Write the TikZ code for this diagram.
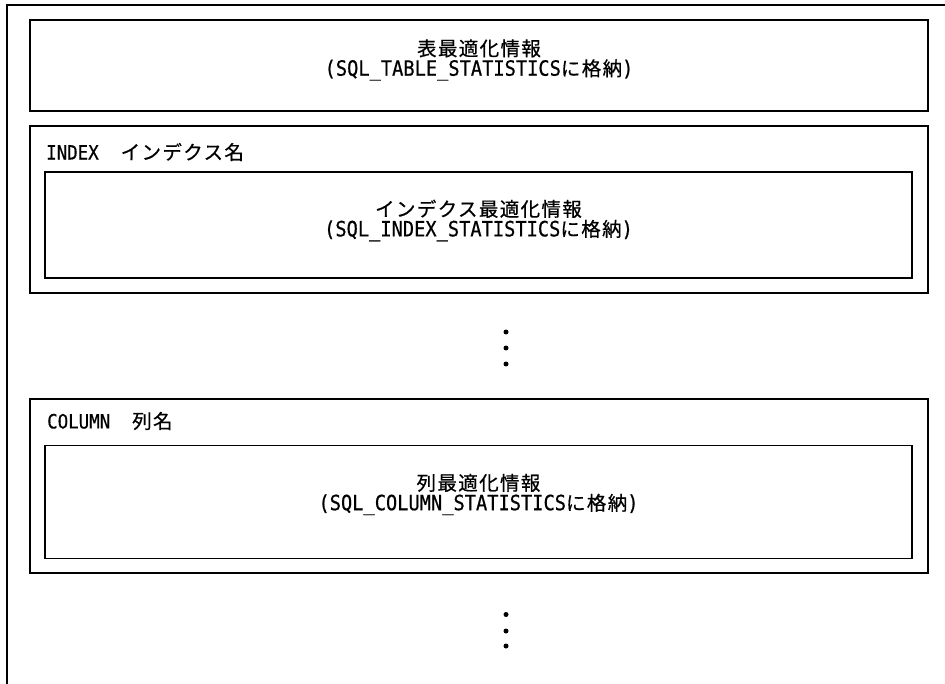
\documentclass[tikz,border=0pt]{standalone}
\usepackage{fontspec}
\newfontfamily\jpfont[LetterSpace=7,FakeBold=0.6]{Noto Sans CJK JP}
\newfontfamily\latfont[FakeStretch=0.89,FakeBold=0.6]{DejaVu Sans Mono}
\newcommand\jt[1]{{\fontsize{19.5pt}{20pt}\jpfont #1}}
\newcommand\lt[1]{{\fontsize{21pt}{20pt}\latfont #1}}
\newcommand\lbt[1]{{\fontsize{19.6pt}{20pt}\latfont #1}}
\begin{document}
\begin{tikzpicture}[x=1pt,y=-1pt,
  box/.style={draw=black,line width=1.6pt,inner sep=0pt},
  label/.style={inner sep=0pt,font=\fontsize{19.5pt}{20pt}\selectfont},
  txt/.style={inner sep=0pt,align=center,font=\fontsize{19.5pt}{20pt}\selectfont},
  dotmark/.style={circle,fill=black,inner sep=0pt,minimum size=5pt}]
\useasboundingbox (0,0) rectangle (945,684);
% outer frame (open at right and bottom)
\coordinate (ftop) at (945,5);
\coordinate (fcorner) at (7,5);
\coordinate (fbot) at (7,684);
\draw[line width=1.4pt] (ftop) -- (fcorner) -- (fbot);
% table statistics
\node[box,minimum width=898pt,minimum height=91pt] (tbl) at (479,65.5) {};
\node[txt] (tbltxt) at (479,60) {\jt{表最適化情報}\\\lt{(SQL\_TABLE\_STATISTICS}\jt{に格納}\lt{)}};
% index
\node[box,minimum width=898pt,minimum height=167pt] (idx) at (479,209.5) {};
\node[label,anchor=west] (idxlab) at (46,152) {\lbt{INDEX}\hspace{22pt}\jt{インデクス名}};
\node[box,minimum width=867pt,minimum height=106pt] (idxin) at (478.5,225) {};
\node[txt] (idxtxt) at (478.5,220.5) {\jt{インデクス最適化情報}\\\lt{(SQL\_INDEX\_STATISTICS}\jt{に格納}\lt{)}};
% dots 1
\node[dotmark] (d1) at (506,332) {};
\node[dotmark] (d2) at (506,348) {};
\node[dotmark] (d3) at (506,364) {};
% column
\node[box,minimum width=898pt,minimum height=174pt] (col) at (479,486) {};
\node[label,anchor=west] (collab) at (47,421) {\lbt{COLUMN}\hspace{22pt}\jt{列名}};
\node[box,minimum width=867pt,minimum height=113pt] (colin) at (478.5,502) {};
\node[txt] (coltxt) at (478.5,494.5) {\jt{列最適化情報}\\\lt{(SQL\_COLUMN\_STATISTICS}\jt{に格納}\lt{)}};
% dots 2
\node[dotmark] (d4) at (506,614.5) {};
\node[dotmark] (d5) at (506,631) {};
\node[dotmark] (d6) at (506,646) {};
\end{tikzpicture}
\end{document}
